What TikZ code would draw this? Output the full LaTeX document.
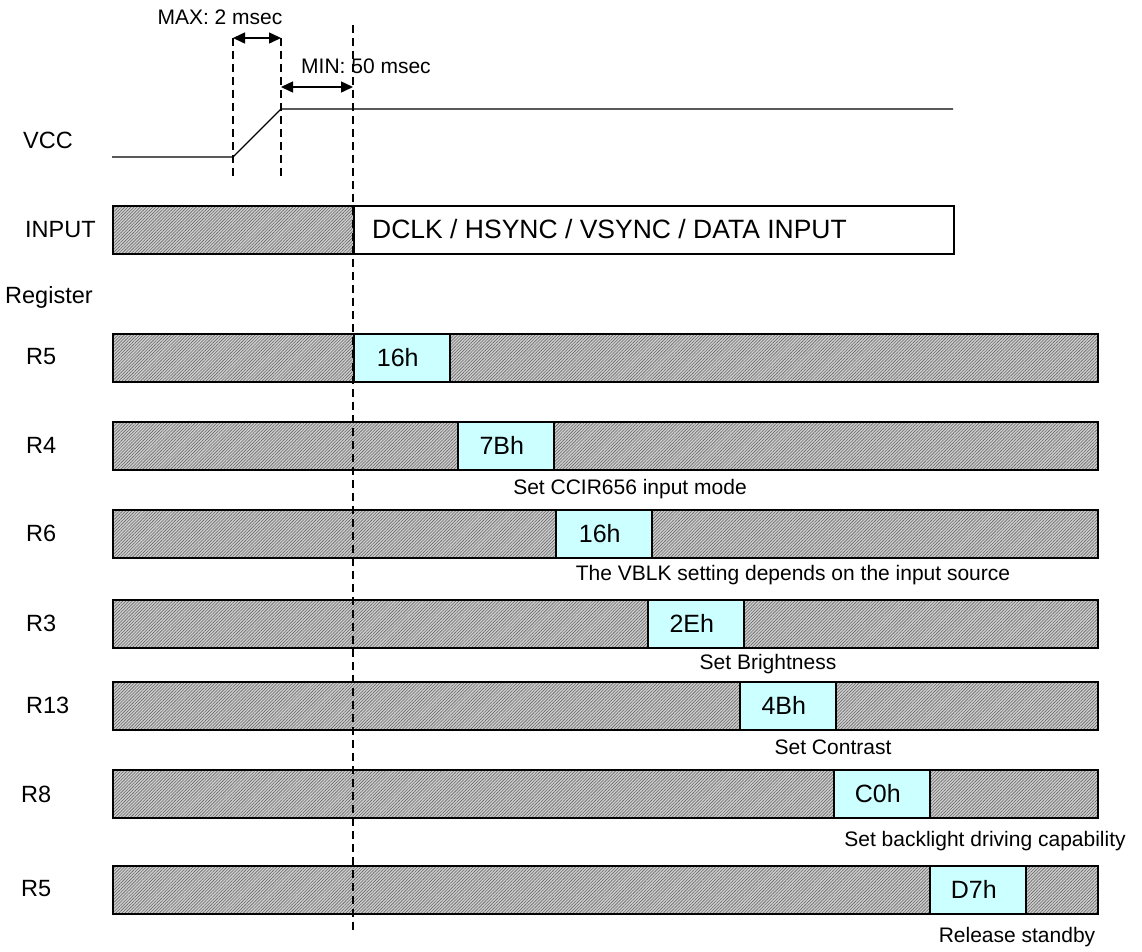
\documentclass[tikz,border=0pt]{standalone}
\usepackage{fontspec}
\setmainfont{Liberation Sans}
\usetikzlibrary{patterns.meta,arrows.meta}
\definecolor{regcyan}{HTML}{CCFFFF}
\begin{document}
\begin{tikzpicture}[x=1pt,y=-1pt,
  hatchbar/.style={draw=black, line width=1.6pt, rectangle, inner sep=0pt, minimum height=48pt, anchor=north west,
    preaction={fill=gray!38},
    preaction={pattern={Lines[angle=45,distance=2.2pt,line width=0.6pt]}, pattern color=gray!80!black}},
  valbox/.style={draw=black, line width=1.5pt, rectangle, inner sep=0pt, minimum width=96pt, minimum height=48pt, anchor=north west, fill=regcyan},
  whitebox/.style={draw=black, line width=1.5pt, rectangle, inner sep=0pt, minimum height=48pt, anchor=north west, fill=white},
  dashline/.style={line width=1.4pt, dash pattern=on 8pt off 5pt},
  dimarrow/.style={line width=1.5pt, {Triangle[length=12pt,width=11pt]}-{Triangle[length=12pt,width=11pt]}},
  wave/.style={line width=1.3pt},
  lbl/.style={anchor=west, inner sep=0pt, font=\fontsize{23.5}{28}\selectfont},
  hex/.style={inner sep=0pt, font=\fontsize{25}{30}\selectfont},
  note/.style={inner sep=0pt, font=\fontsize{21}{25}\selectfont},
]
\useasboundingbox (0,0) rectangle (1142,951);

% labels
\node[lbl] (lvcc) at (23,140) {VCC};
\node[lbl] (linput) at (25,230) {INPUT};
\node[lbl] (lreg) at (5,297) {Register};
\node[lbl] (lr5a) at (26,357) {R5};
\node[lbl] (lr4) at (26,445) {R4};
\node[lbl] (lr6) at (26,533) {R6};
\node[lbl] (lr3) at (26,623) {R3};
\node[lbl] (lr13) at (26,705) {R13};
\node[lbl] (lr8) at (21,794) {R8};
\node[lbl] (lr5b) at (21,889) {R5};

% INPUT row
\node[hatchbar, minimum width=241pt] (inh) at (112,205) {};
\node[whitebox, minimum width=600pt] (inw) at (353,205) {};
\node[anchor=west, inner sep=0pt, font=\fontsize{26.5}{31}\selectfont] (intext) at (372,229) {DCLK / HSYNC / VSYNC / DATA INPUT};

% register bars
\node[hatchbar, minimum width=985pt] (b1) at (112,333) {};
\node[hatchbar, minimum width=985pt] (b2) at (112,421) {};
\node[hatchbar, minimum width=985pt] (b3) at (112,509) {};
\node[hatchbar, minimum width=985pt] (b4) at (112,599) {};
\node[hatchbar, minimum width=985pt] (b5) at (112,681) {};
\node[hatchbar, minimum width=985pt] (b6) at (112,769) {};
\node[hatchbar, minimum width=985pt] (b7) at (112,865) {};

\node[valbox] (v1) at (353,333) {};
\node[hex] at ([xshift=-4pt]v1.center) {16h};
\node[valbox] (v2) at (457,421) {};
\node[hex] at ([xshift=-4pt]v2.center) {7Bh};
\node[valbox] (v3) at (555,509) {};
\node[hex] at ([xshift=-4pt]v3.center) {16h};
\node[valbox] (v4) at (647,599) {};
\node[hex] at ([xshift=-4pt]v4.center) {2Eh};
\node[valbox] (v5) at (739,681) {};
\node[hex] at ([xshift=-4pt]v5.center) {4Bh};
\node[valbox] (v6) at (833,769) {};
\node[hex] at ([xshift=-4pt]v6.center) {C0h};
\node[valbox] (v7) at (929,865) {};
\node[hex] at ([xshift=-4pt]v7.center) {D7h};

% notes
\node[note] (n2) at (630,489) {Set CCIR656 input mode};
\node[note] (n3) at (793,575) {The VBLK setting depends on the input source};
\node[note] (n4) at (768,664) {Set Brightness};
\node[note] (n5) at (833,747) {Set Contrast};
\node[note] (n6) at (985,841) {Set backlight driving capability};
\node[note] (n7) at (1017,937) {Release standby};

% VCC waveform
\coordinate (w0) at (112,157);
\coordinate (w1) at (233,157);
\coordinate (w2) at (281,109);
\coordinate (w3) at (953,109);
\draw[wave] (w0) -- (w1) -- (w2) -- (w3);

% dashed lines
\coordinate (d1t) at (233,38);
\coordinate (d1b) at (233,180);
\coordinate (d2t) at (281,38);
\coordinate (d2b) at (281,180);
\coordinate (d3t) at (353,25);
\coordinate (d3b) at (353,934);
\coordinate (m1) at (281,87);
\coordinate (m2) at (353,87);
\draw[dashline] (d1t) -- (d1b);
\draw[dashline] (d2t) -- (d2b);
\draw[dashline] (d3t) -- (d3b);

% dimension arrows
\draw[dimarrow] (d1t) -- (d2t);
\draw[dimarrow] (m1) -- (m2);
\node[note] (tmax) at (220,17) {MAX: 2 msec};
\node[note] (tmin) at (366,66) {MIN: 50 msec};
\end{tikzpicture}
\end{document}
